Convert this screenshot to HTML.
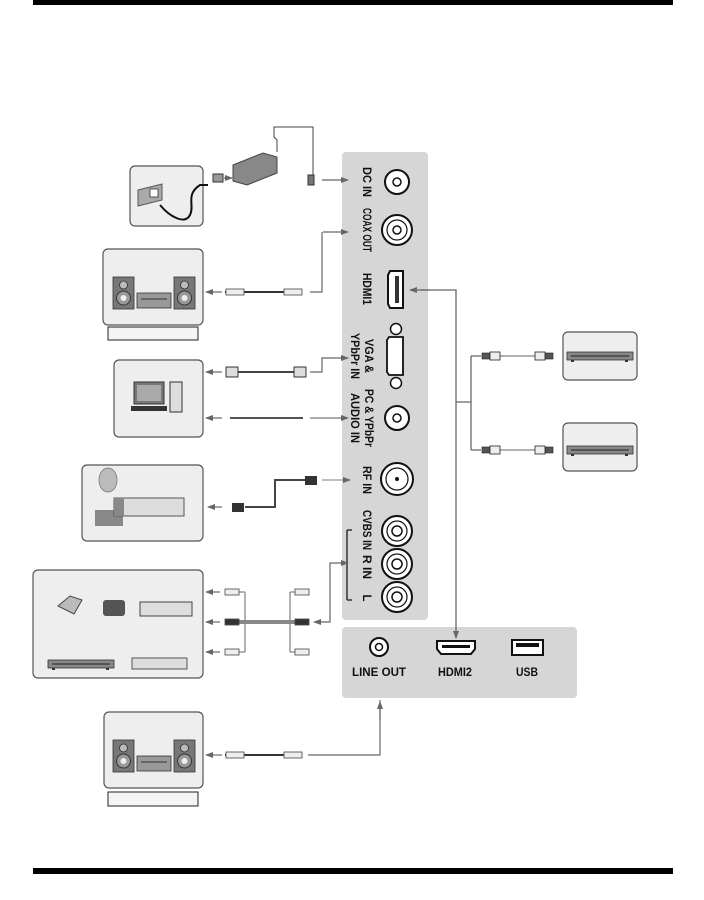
<!DOCTYPE html>
<html><head><meta charset="utf-8"><style>
html,body{margin:0;padding:0;background:#fff;width:704px;height:900px;overflow:hidden}
svg{display:block}
text{font-family:"Liberation Sans",sans-serif;font-weight:bold;fill:#111}
</style></head><body>
<svg width="704" height="900" viewBox="0 0 704 900" xmlns="http://www.w3.org/2000/svg">
<defs>
<marker id="a" markerWidth="8" markerHeight="6" refX="7" refY="3" orient="auto" markerUnits="userSpaceOnUse"><path d="M0,0 L8,3 L0,6 z" fill="#666"/></marker>
<g id="spk"><rect x="0" y="0" width="21" height="32" fill="#777" stroke="#333" stroke-width="0.8"/><circle cx="10.5" cy="8" r="4" fill="#bbb" stroke="#333" stroke-width="0.8"/><circle cx="10.5" cy="21" r="7" fill="#999" stroke="#333"/><circle cx="10.5" cy="21" r="3" fill="#eee"/></g>
<g id="audio"><use href="#spk" x="0" y="0"/><rect x="24" y="16" width="34" height="15" fill="#999" stroke="#333" stroke-width="0.8"/><line x1="28" y1="22" x2="54" y2="22" stroke="#333"/><use href="#spk" x="61" y="0"/></g>
<g id="dvd"><rect x="0" y="0" width="66" height="8" fill="#888" stroke="#333" stroke-width="0.8"/><line x1="4" y1="4" x2="62" y2="4" stroke="#222"/><rect x="4" y="8" width="3" height="2" fill="#333"/><rect x="58" y="8" width="3" height="2" fill="#333"/></g>
<g id="hd"><rect x="0" y="-3" width="8" height="6" fill="#555" stroke="#222" stroke-width="0.6"/><rect x="8" y="-4" width="10" height="8" fill="#eee" stroke="#222" stroke-width="0.8"/></g>
</defs>
<rect x="33" y="0" width="640" height="5" fill="#000"/>
<rect x="33" y="868" width="640" height="6" fill="#000"/>

<rect x="342" y="152" width="86" height="468" rx="4" fill="#d6d6d6"/>
<rect x="342" y="627" width="235" height="71" rx="4" fill="#d6d6d6"/>

<g stroke="#111" fill="#fff">
<circle cx="397" cy="182" r="12" stroke-width="2"/><circle cx="397" cy="182" r="4" stroke-width="1.5"/>
<circle cx="397" cy="230" r="15" stroke-width="2"/><circle cx="397" cy="230" r="10" stroke-width="1.2"/><circle cx="397" cy="230" r="4" stroke-width="1.5"/>
<path d="M390,271 h13 v37 h-13 l-2,-4 v-29 z" stroke-width="2"/><rect x="395" y="276" width="4" height="27" fill="#333" stroke="none"/>
<circle cx="396" cy="329" r="5.5" stroke-width="1.5"/><circle cx="396" cy="383" r="5.5" stroke-width="1.5"/>
<path d="M389,337 h14 v38 h-14 l-2,-3 v-32 z" stroke-width="1.8"/>
<circle cx="397" cy="418" r="12" stroke-width="2"/><circle cx="397" cy="418" r="4" stroke-width="1.5"/>
<circle cx="397" cy="479" r="16" stroke-width="2"/><circle cx="397" cy="479" r="11" stroke-width="1.2"/><circle cx="397" cy="479" r="1.5" fill="#111"/>
<circle cx="397" cy="531" r="15" stroke-width="2"/><circle cx="397" cy="531" r="10" stroke-width="1.2"/><circle cx="397" cy="531" r="5" stroke-width="1.5"/>
<circle cx="397" cy="564" r="15" stroke-width="2"/><circle cx="397" cy="564" r="10" stroke-width="1.2"/><circle cx="397" cy="564" r="5" stroke-width="1.5"/>
<circle cx="397" cy="597" r="15" stroke-width="2"/><circle cx="397" cy="597" r="10" stroke-width="1.2"/><circle cx="397" cy="597" r="5" stroke-width="1.5"/>
<circle cx="379" cy="647" r="9" stroke-width="2"/><circle cx="379" cy="647" r="3.5" stroke-width="1.5"/>
<path d="M437,641 h38 v8 l-4,5 h-30 l-4,-5 z" stroke-width="2"/><rect x="442" y="645" width="28" height="3" fill="#111" stroke="none"/>
<rect x="512" y="640" width="31" height="15" stroke-width="2"/><rect x="516" y="643" width="23" height="4" fill="#111" stroke="none"/>
</g>
<line x1="347" y1="530" x2="347" y2="600" stroke="#333" stroke-width="1.5"/>
<line x1="347" y1="530" x2="352" y2="530" stroke="#333" stroke-width="1.5"/>
<line x1="347" y1="600" x2="352" y2="600" stroke="#333" stroke-width="1.5"/>

<g font-size="11.5">
<text transform="translate(366,182) rotate(90)" text-anchor="middle" dominant-baseline="middle" textLength="30" lengthAdjust="spacingAndGlyphs">DC IN</text>
<text transform="translate(366,230) rotate(90)" text-anchor="middle" dominant-baseline="middle" textLength="44" lengthAdjust="spacingAndGlyphs">COAX OUT</text>
<text transform="translate(366,289) rotate(90)" text-anchor="middle" dominant-baseline="middle" textLength="32" lengthAdjust="spacingAndGlyphs">HDMI1</text>
<text transform="translate(368,356) rotate(90)" text-anchor="middle" dominant-baseline="middle" textLength="34" lengthAdjust="spacingAndGlyphs">VGA &amp;</text>
<text transform="translate(354,356) rotate(90)" text-anchor="middle" dominant-baseline="middle" textLength="46" lengthAdjust="spacingAndGlyphs">YPbPr IN</text>
<text transform="translate(368,418) rotate(90)" text-anchor="middle" dominant-baseline="middle" textLength="58" lengthAdjust="spacingAndGlyphs">PC &amp; YPbPr</text>
<text transform="translate(354,418) rotate(90)" text-anchor="middle" dominant-baseline="middle" textLength="50" lengthAdjust="spacingAndGlyphs">AUDIO IN</text>
<text transform="translate(366,480) rotate(90)" text-anchor="middle" dominant-baseline="middle" textLength="28" lengthAdjust="spacingAndGlyphs">RF IN</text>
<text transform="translate(366,530) rotate(90)" text-anchor="middle" dominant-baseline="middle" textLength="40" lengthAdjust="spacingAndGlyphs">CVBS IN</text>
<text transform="translate(366,567) rotate(90)" text-anchor="middle" dominant-baseline="middle" textLength="24" lengthAdjust="spacingAndGlyphs">R IN</text>
<text transform="translate(366,598) rotate(90)" text-anchor="middle" dominant-baseline="middle">L</text>
<text x="379" y="676" text-anchor="middle" textLength="54" lengthAdjust="spacingAndGlyphs">LINE OUT</text>
<text x="455" y="676" text-anchor="middle" textLength="34" lengthAdjust="spacingAndGlyphs">HDMI2</text>
<text x="527" y="676" text-anchor="middle" textLength="22" lengthAdjust="spacingAndGlyphs">USB</text>
</g>

<g fill="#eee" stroke="#555" stroke-width="1.2">
<rect x="130" y="166" width="73" height="60" rx="5"/>
<rect x="103" y="249" width="100" height="76" rx="5"/>
<rect x="114" y="360" width="89" height="77" rx="5"/>
<rect x="82" y="465" width="121" height="76" rx="5"/>
<rect x="33" y="570" width="170" height="108" rx="5"/>
<rect x="104" y="712" width="99" height="76" rx="5"/>
<rect x="563" y="332" width="74" height="48" rx="5"/>
<rect x="563" y="423" width="74" height="48" rx="5"/>
</g>
<rect x="108" y="327" width="90" height="13" fill="#f4f4f4" stroke="#222" stroke-width="1"/>
<rect x="108" y="792" width="90" height="14" fill="#f4f4f4" stroke="#222" stroke-width="1"/>

<path d="M138,190 l24,-6 v16 l-24,6 z" fill="#aaa" stroke="#555"/>
<rect x="150" y="189" width="8" height="8" fill="#fff" stroke="#333" stroke-width="0.8"/>
<path d="M160,205 c10,12 25,20 30,10 c5,-10 -5,-20 10,-30 h8" fill="none" stroke="#111" stroke-width="2"/>
<rect x="213" y="174" width="10" height="8" fill="#999" stroke="#333"/>
<path d="M233,165 l30,-12 l14,4 v16 l-30,12 l-14,-4 z" fill="#888" stroke="#444"/>
<path d="M277,152 v-12 l-3,-3 v-10 h39 v50" fill="none" stroke="#444" stroke-width="1"/>
<rect x="308" y="175" width="6" height="10" fill="#777" stroke="#333"/>
<line x1="322" y1="180" x2="348" y2="180" stroke="#666" stroke-width="1.2" marker-end="url(#a)"/>
<line x1="224" y1="178" x2="232" y2="178" stroke="#666" stroke-width="1.2" marker-end="url(#a)"/>

<use href="#audio" x="113" y="277"/>
<path d="M322,232 v60 h-12" fill="none" stroke="#666" stroke-width="1.2"/>
<line x1="323" y1="232" x2="348" y2="232" stroke="#666" stroke-width="1.2" marker-end="url(#a)"/>
<line x1="225" y1="292" x2="300" y2="292" stroke="#333" stroke-width="2"/>
<rect x="226" y="289" width="18" height="6" fill="#eee" stroke="#444" stroke-width="0.8"/>
<rect x="284" y="289" width="18" height="6" fill="#eee" stroke="#444" stroke-width="0.8"/>
<line x1="222" y1="292" x2="206" y2="292" stroke="#666" stroke-width="1.2" marker-end="url(#a)"/>

<rect x="134" y="382" width="30" height="22" fill="#777" stroke="#333"/><rect x="137" y="385" width="24" height="16" fill="#aaa"/>
<rect x="131" y="406" width="36" height="5" fill="#333"/>
<rect x="170" y="382" width="12" height="30" fill="#ddd" stroke="#333"/>
<path d="M310,372 h12 v-14 h26" fill="none" stroke="#666" stroke-width="1.2" marker-end="url(#a)"/>
<line x1="230" y1="372" x2="300" y2="372" stroke="#444" stroke-width="2"/>
<rect x="226" y="367" width="12" height="10" fill="#ddd" stroke="#333"/><rect x="294" y="367" width="12" height="10" fill="#ddd" stroke="#333"/>
<line x1="222" y1="372" x2="206" y2="372" stroke="#666" stroke-width="1.2" marker-end="url(#a)"/>
<line x1="230" y1="418" x2="303" y2="418" stroke="#555" stroke-width="2"/>
<line x1="310" y1="418" x2="348" y2="418" stroke="#777" stroke-width="1.2" marker-end="url(#a)"/>
<line x1="222" y1="418" x2="206" y2="418" stroke="#666" stroke-width="1.2" marker-end="url(#a)"/>

<ellipse cx="108" cy="480" rx="9" ry="12" fill="#bbb" stroke="#888"/>
<rect x="95" y="510" width="28" height="16" fill="#888"/>
<path d="M114,498 l70,0 l0,18 l-70,0 z" fill="#ddd" stroke="#555"/>
<rect x="114" y="498" width="10" height="18" fill="#888"/>
<path d="M245,507 h30 v-27 h30" fill="none" stroke="#444" stroke-width="2"/>
<rect x="232" y="503" width="12" height="9" fill="#333"/><rect x="305" y="476" width="12" height="9" fill="#333"/>
<line x1="322" y1="480" x2="350" y2="480" stroke="#999" stroke-width="1.2" marker-end="url(#a)"/>
<line x1="222" y1="507" x2="208" y2="507" stroke="#666" stroke-width="1.2" marker-end="url(#a)"/>

<path d="M58,606 l12,-10 l12,4 l-8,14 z" fill="#bbb" stroke="#444"/>
<rect x="103" y="600" width="22" height="16" rx="3" fill="#555"/>
<rect x="140" y="602" width="52" height="14" fill="#ddd" stroke="#444"/>
<use href="#dvd" x="48" y="660"/>
<rect x="132" y="658" width="55" height="11" fill="#ddd" stroke="#555"/>
<g stroke="#888" stroke-width="1.3" fill="none">
<path d="M245,592 h-8 M245,592 v60 M245,652 h-8"/>
<path d="M290,592 h8 M290,592 v60 M290,652 h8"/>
</g>
<line x1="230" y1="622" x2="300" y2="622" stroke="#888" stroke-width="4"/>
<g fill="#eee" stroke="#444" stroke-width="0.8">
<rect x="225" y="589" width="14" height="6"/><rect x="225" y="619" width="14" height="6" fill="#333"/><rect x="225" y="649" width="14" height="6"/>
<rect x="295" y="589" width="14" height="6"/><rect x="295" y="619" width="14" height="6" fill="#333"/><rect x="295" y="649" width="14" height="6"/>
</g>
<g stroke="#666" stroke-width="1.2">
<line x1="220" y1="592" x2="206" y2="592" marker-end="url(#a)"/>
<line x1="220" y1="622" x2="206" y2="622" marker-end="url(#a)"/>
<line x1="220" y1="652" x2="206" y2="652" marker-end="url(#a)"/>
</g>
<path d="M346,563 h-16 v59 h-16" fill="none" stroke="#666" stroke-width="1.2" marker-end="url(#a)"/>
<line x1="340" y1="563" x2="348" y2="563" stroke="#666" stroke-width="1.2" marker-end="url(#a)"/>

<use href="#audio" x="113" y="740"/>
<path d="M380,700 v55 h-72" fill="none" stroke="#666" stroke-width="1.2"/>
<line x1="380" y1="720" x2="380" y2="702" stroke="#666" stroke-width="1.2" marker-end="url(#a)"/>
<line x1="225" y1="755" x2="300" y2="755" stroke="#333" stroke-width="2"/>
<rect x="226" y="752" width="18" height="6" fill="#eee" stroke="#444" stroke-width="0.8"/>
<rect x="284" y="752" width="18" height="6" fill="#eee" stroke="#444" stroke-width="0.8"/>
<line x1="222" y1="755" x2="206" y2="755" stroke="#666" stroke-width="1.2" marker-end="url(#a)"/>

<path d="M420,290 h36 v348" fill="none" stroke="#666" stroke-width="1.3" marker-end="url(#a)"/>
<line x1="430" y1="290" x2="410" y2="290" stroke="#666" stroke-width="1.3" marker-end="url(#a)"/>
<path d="M456,402 h15 M471,356 v94 M471,356 h10 M471,450 h10" fill="none" stroke="#666" stroke-width="1.3"/>
<line x1="500" y1="356" x2="535" y2="356" stroke="#666"/><line x1="500" y1="450" x2="535" y2="450" stroke="#666"/>
<use href="#hd" x="482" y="356"/><use href="#hd" x="482" y="450"/>
<g transform="translate(553,356) scale(-1,1)"><use href="#hd"/></g>
<g transform="translate(553,450) scale(-1,1)"><use href="#hd"/></g>
<use href="#dvd" x="567" y="352"/><use href="#dvd" x="567" y="446"/>
</svg>
</body></html>
